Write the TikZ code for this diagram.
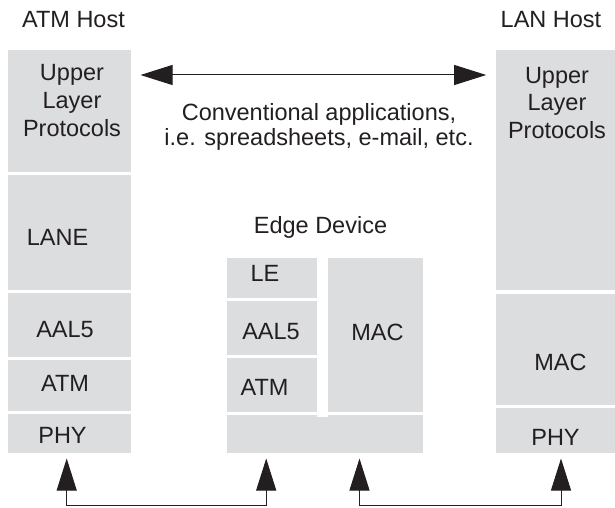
\documentclass[tikz,border=0pt]{standalone}
\usepackage{fontspec}
\setmainfont{Liberation Sans}
\usetikzlibrary{arrows.meta}
\definecolor{layergray}{RGB}{220,221,223}
\definecolor{inkblack}{RGB}{35,31,32}
\tikzset{every picture/.style={line width=1pt}}
\tikzset{
  layer/.style={fill=layergray, inner sep=0pt},
  lbl/.style={inner sep=0pt, text=inkblack, align=center, font=\fontsize{23.5}{28}\selectfont},
  duplex/.style={draw=inkblack, {Triangle[length=32pt,width=20pt]}-{Triangle[length=32pt,width=20pt]}}
}
\begin{document}
\begin{tikzpicture}[x=1pt,y=1pt,yscale=-1,xscale=1]
\useasboundingbox (0,0) rectangle (615,508);

%Shape: Rectangle ATM host stack
\node[layer, minimum width=123pt, minimum height=122pt] (aulp) at (69.5,111) {};
\node[layer, minimum width=123pt, minimum height=115pt] (alane) at (69.5,232.5) {};
\node[layer, minimum width=123pt, minimum height=64pt] (aaal) at (69.5,325) {};
\node[layer, minimum width=123pt, minimum height=51pt] (aatm) at (69.5,385.5) {};
\node[layer, minimum width=123pt, minimum height=39pt] (aphy) at (69.5,433.5) {};

%Shape: Rectangle edge device stack
\node[layer, minimum width=90pt, minimum height=40pt] (ele) at (272,278) {};
\node[layer, minimum width=90pt, minimum height=54pt] (eaal) at (272,328) {};
\node[layer, minimum width=90pt, minimum height=54pt] (eatm) at (272,385) {};
\node[layer, minimum width=95pt, minimum height=154pt] (emac) at (375.5,335) {};
\node[layer, minimum width=196pt, minimum height=38pt] (ebot) at (325,434) {};
\fill[white] (317,412) rectangle (328,417);

%Shape: Rectangle LAN host stack
\node[layer, minimum width=119pt, minimum height=240pt] (lulp) at (555.5,170) {};
\node[layer, minimum width=119pt, minimum height=111pt] (lmac) at (555.5,349.5) {};
\node[layer, minimum width=119pt, minimum height=45pt] (lphy) at (555.5,430.5) {};

%Straight Lines
\draw[duplex] ([xshift=9pt,yshift=-36pt]aulp.east) -- ([xshift=-9.3pt,yshift=-95pt]lulp.west);
\draw[duplex] ([xshift=-2.8pt,yshift=5pt]aphy.south) -- ++(0,47) -| ([xshift=39.7pt,yshift=5pt]ebot.south west);
\draw[duplex] ([xshift=133pt,yshift=5pt]ebot.south west) -- ++(0,47) -| ([xshift=5.5pt,yshift=5pt]lphy.south);

% Text Node
\node[lbl] (tatm) at (73.5,20) {ATM Host};
\node[lbl] (tlan) at (551,20) {LAN Host};
\node[lbl] (tedge) at (320.5,227) {Edge Device};
\node[lbl, font=\fontsize{23.5}{25}\selectfont] (tapp) at (319,127) {Conventional applications,\\i.e. spreadsheets, e-mail, etc.};
% Text Node
\node[lbl] (taulp) at (72,101) {Upper\\Layer\\Protocols};
\node[lbl] (talane) at (57.5,237) {LANE};
\node[lbl] (taaal) at (65,330) {AAL5};
\node[lbl] (taatm) at (65,383) {ATM};
\node[lbl] (taphy) at (62.5,435) {PHY};
% Text Node
\node[lbl] (tele) at (265,273) {LE};
\node[lbl] (teaal) at (271,332) {AAL5};
\node[lbl] (teatm) at (264.5,387) {ATM};
\node[lbl] (temac) at (377.5,332) {MAC};
% Text Node
\node[lbl, font=\fontsize{23.5}{27.5}\selectfont] (tlulp) at (557,103) {Upper\\Layer\\Protocols};
\node[lbl] (tlmac) at (560.5,362) {MAC};
\node[lbl] (tlphy) at (555.5,437) {PHY};

\end{tikzpicture}
\end{document}
